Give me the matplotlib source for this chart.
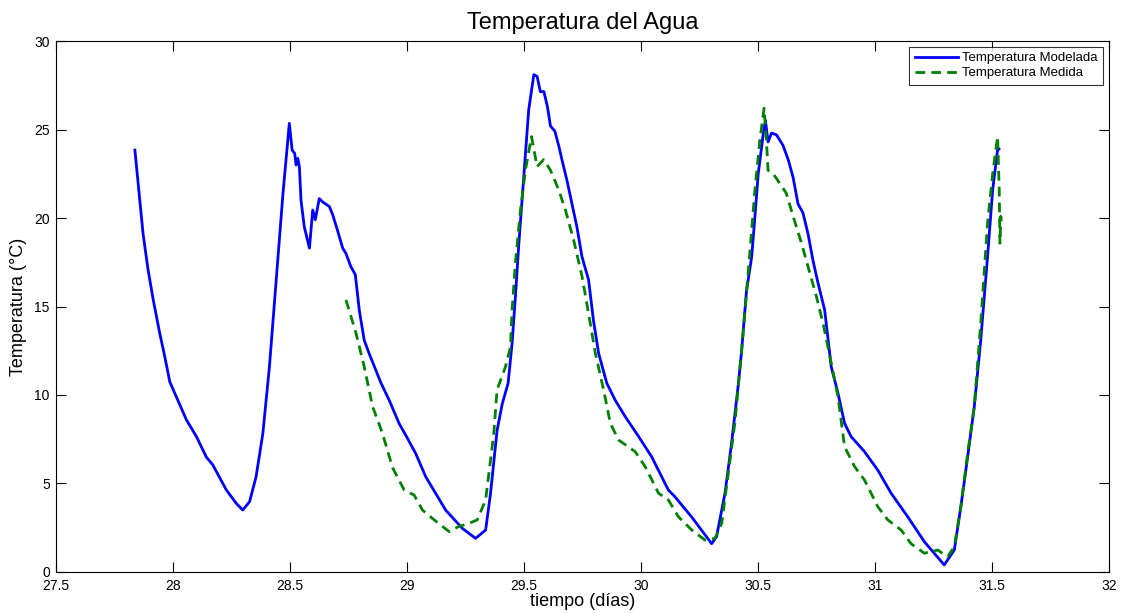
import matplotlib
matplotlib.use("Agg")
import matplotlib.pyplot as plt

plt.rcParams['font.family'] = ['Liberation Sans', 'DejaVu Sans']

# modelled water temperature (day, degC)
dia_mod = [27.837, 27.858, 27.872, 27.893, 27.915, 27.943, 27.965, 27.986, 28.014, 28.057,
           28.100, 28.142, 28.170, 28.228, 28.270, 28.298, 28.327, 28.355, 28.384, 28.412,
           28.440, 28.470, 28.497, 28.509, 28.520, 28.526, 28.533, 28.540, 28.547, 28.561,
           28.583, 28.597, 28.608, 28.625, 28.640, 28.668, 28.682, 28.703, 28.725, 28.739,
           28.760, 28.779, 28.796, 28.817, 28.838, 28.867, 28.888, 28.924, 28.966, 29.000,
           29.037, 29.080, 29.165, 29.236, 29.293, 29.336, 29.357, 29.385, 29.407, 29.432,
           29.449, 29.464, 29.478, 29.499, 29.520, 29.542, 29.556, 29.570, 29.585, 29.600,
           29.613, 29.632, 29.650, 29.662, 29.684, 29.705, 29.726, 29.748, 29.776, 29.797,
           29.819, 29.854, 29.890, 29.933, 29.990, 30.046, 30.117, 30.145, 30.217, 30.302,
           30.323, 30.359, 30.387, 30.416, 30.430, 30.451, 30.473, 30.487, 30.501, 30.523,
           30.532, 30.543, 30.558, 30.579, 30.607, 30.629, 30.650, 30.671, 30.692, 30.714,
           30.735, 30.757, 30.785, 30.813, 30.842, 30.870, 30.898, 30.955, 31.012, 31.069,
           31.140, 31.211, 31.296, 31.339, 31.367, 31.396, 31.424, 31.452, 31.481, 31.503,
           31.524, 31.530]
temp_mod = [23.84, 21.0, 19.1, 17.1, 15.4, 13.5, 12.15, 10.75, 9.9, 8.6,
            7.65, 6.5, 6.05, 4.63, 3.88, 3.5, 3.97, 5.38, 7.84, 11.6,
            16.3, 21.4, 25.35, 23.84, 23.65, 22.99, 23.37, 22.9, 21.0, 19.5,
            18.3, 20.45, 19.9, 21.1, 20.9, 20.65, 20.2, 19.3, 18.3, 18.0,
            17.25, 16.8, 14.8, 13.1, 12.35, 11.4, 10.7, 9.7, 8.4, 7.6,
            6.7, 5.38, 3.5, 2.47, 1.9, 2.37, 4.45, 8.0, 9.5, 10.66,
            12.9, 15.7, 18.57, 22.3, 26.1, 28.1, 28.0, 27.14, 27.14, 26.3,
            25.2, 24.9, 24.0, 23.3, 22.1, 20.8, 19.5, 17.8, 16.5, 14.2,
            12.35, 10.66, 9.7, 8.77, 7.65, 6.5, 4.63, 4.25, 3.1, 1.6,
            2.0, 4.45, 7.27, 10.6, 12.5, 15.9, 17.8, 20.1, 22.5, 24.8,
            25.5, 24.3, 24.8, 24.7, 24.1, 23.3, 22.3, 20.8, 20.3, 19.1,
            17.6, 16.3, 14.8, 11.6, 10.1, 8.4, 7.65, 6.8, 5.76, 4.45,
            3.12, 1.71, 0.4, 1.24, 3.69, 6.5, 9.3, 13.1, 17.8, 21.6,
            23.84, 23.9]

# measured water temperature (day, degC)
dia_med = [28.739, 28.782, 28.817, 28.853, 28.895, 28.938, 28.988, 29.030, 29.066, 29.108,
           29.180, 29.220, 29.265, 29.300, 29.336, 29.371, 29.385, 29.421, 29.442, 29.449,
           29.464, 29.485, 29.506, 29.532, 29.556, 29.584, 29.613, 29.648, 29.677, 29.712,
           29.748, 29.776, 29.805, 29.840, 29.869, 29.904, 29.975, 30.018, 30.075, 30.117,
           30.160, 30.217, 30.274, 30.316, 30.345, 30.373, 30.401, 30.430, 30.458, 30.487,
           30.508, 30.526, 30.536, 30.543, 30.565, 30.593, 30.621, 30.650, 30.686, 30.714,
           30.750, 30.778, 30.813, 30.842, 30.870, 30.913, 30.955, 31.012, 31.055, 31.112,
           31.154, 31.211, 31.268, 31.310, 31.339, 31.367, 31.396, 31.424, 31.452, 31.481,
           31.503, 31.524, 31.531, 31.534, 31.538, 31.540]
temp_med = [15.37, 13.5, 11.6, 9.34, 7.84, 5.9, 4.63, 4.35, 3.5, 3.03,
            2.28, 2.56, 2.75, 2.94, 4.07, 7.84, 10.3, 11.6, 12.7, 14.8,
            17.6, 20.45, 22.7, 24.6, 22.9, 23.3, 22.7, 21.6, 20.45, 18.76,
            16.7, 14.6, 12.35, 10.3, 8.4, 7.46, 6.8, 5.95, 4.45, 4.07,
            3.12, 2.37, 1.8, 1.9, 2.75, 5.57, 8.4, 12.5, 16.9, 21.6,
            24.4, 26.2, 24.4, 22.7, 22.5, 21.96, 21.4, 20.1, 18.57, 17.25,
            15.55, 14.05, 11.8, 9.9, 7.08, 5.95, 5.2, 3.69, 2.94, 2.37,
            1.6, 1.06, 1.24, 0.86, 1.43, 3.69, 6.7, 9.3, 14.05, 19.7,
            22.5, 24.6, 21.6, 18.57, 20.1, 19.5]

xticks = [27.5, 28, 28.5, 29, 29.5, 30, 30.5, 31, 31.5, 32]
xlabels = ['27.5', '28', '28.5', '29', '29.5', '30', '30.5', '31', '31.5', '32']
yticks = [0, 5, 10, 15, 20, 25, 30]

fig = plt.figure(figsize=(11.23, 6.13), dpi=100)
ax = fig.add_axes([0.0499, 0.0669, 0.9376, 0.8662])

ax.plot(dia_mod, temp_mod, color='#0000ff', lw=2, label='Temperatura Modelada')
ax.plot(dia_med, temp_med, color='#008000', lw=2, dashes=(3.5, 2.2), label='Temperatura Medida')

ax.set_xlim(27.5, 32)
ax.set_ylim(0, 30)
ax.set_xticks(xticks)
ax.set_xticklabels(xlabels)
ax.set_yticks(yticks)
ax.tick_params(direction='in', top=True, right=True, labelsize=10, length=7, width=0.8)
ax.tick_params(axis='x', pad=5)
ax.tick_params(axis='y', pad=4.5)
for s in ax.spines.values():
    s.set_linewidth(0.8)

ax.set_title('Temperatura del Agua', fontsize=17, pad=9)
ax.set_xlabel('tiempo (días)', fontsize=13, labelpad=0)
ax.set_ylabel('Temperatura (°C)', fontsize=13, labelpad=5)

leg = ax.legend(loc='upper right', fontsize=9.5, frameon=True, fancybox=False,
                borderpad=0.4, labelspacing=0.2, handlelength=3.3, handletextpad=0.3,
                borderaxespad=0.45)
leg.get_frame().set_edgecolor('black')
leg.get_frame().set_linewidth(0.8)

fig.savefig('out.png', dpi=100)
